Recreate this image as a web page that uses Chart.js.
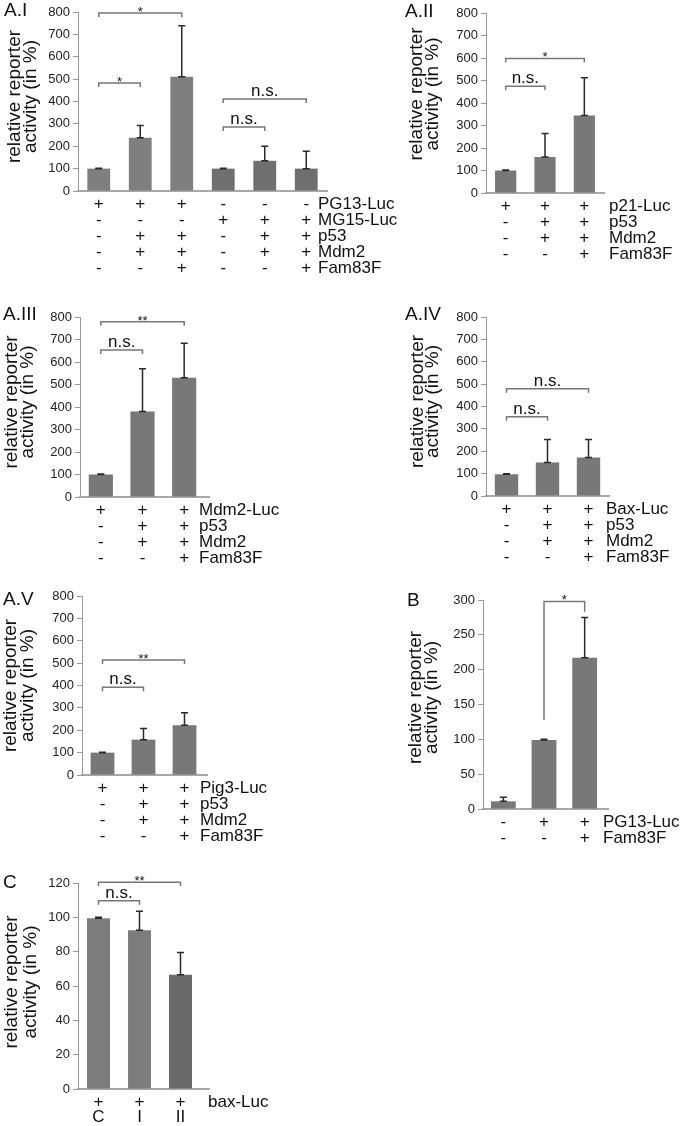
<!DOCTYPE html>
<html><head><meta charset="utf-8">
<script src="https://cdn.jsdelivr.net/npm/chart.js@4"></script>
<style>
html,body{margin:0;padding:0;background:#fff;}
body{width:685px;height:1126px;position:relative;overflow:hidden;}
canvas{position:absolute;}
</style></head><body>
<canvas id="c1"></canvas><canvas id="c2"></canvas><canvas id="c3"></canvas>
<canvas id="c4"></canvas><canvas id="c5"></canvas><canvas id="c6"></canvas><canvas id="c7"></canvas>
<script>
const FONT = '"Liberation Sans", Arial, Helvetica, sans-serif';

// ---------- data ----------
const ticksA = [0, 100, 200, 300, 400, 500, 600, 700, 800];
const ticksB = [0, 50, 100, 150, 200, 250, 300];
const ticksC = [0, 20, 40, 60, 80, 100, 120];

// A.I
const a1RowNames = ['PG13-Luc', 'MG15-Luc', 'p53', 'Mdm2', 'Fam83F'];
const a1Signs = [
  ['+', '+', '+', '-', '-', '-'],
  ['-', '-', '-', '+', '+', '+'],
  ['-', '+', '+', '-', '+', '+'],
  ['-', '+', '+', '-', '+', '+'],
  ['-', '-', '+', '-', '-', '+']
];
const a1Values = [100, 238, 511, 100, 135, 100];
const a1Errors = [2, 55, 227, 2, 65, 78];
const a1Brackets = [[0, 1, 483, '*'], [0, 2, 795, '*'], [3, 4, 286, 'n.s.'], [3, 5, 411, 'n.s.']];

// A.II
const a2RowNames = ['p21-Luc', 'p53', 'Mdm2', 'Fam83F'];
const a2Signs = [['+', '+', '+'], ['-', '+', '+'], ['-', '+', '+'], ['-', '-', '+']];
const a2Values = [100, 160, 345];
const a2Errors = [2, 105, 167];
const a2Brackets = [[0, 1, 474, 'n.s.'], [0, 2, 598, '*']];

// A.III
const a3RowNames = ['Mdm2-Luc', 'p53', 'Mdm2', 'Fam83F'];
const a3Signs = [['+', '+', '+'], ['-', '+', '+'], ['-', '+', '+'], ['-', '-', '+']];
const a3Values = [100, 380, 530];
const a3Errors = [2, 190, 153];
const a3Brackets = [[0, 1, 653, 'n.s.'], [0, 2, 779, '**']];

// A.IV
const a4RowNames = ['Bax-Luc', 'p53', 'Mdm2', 'Fam83F'];
const a4Signs = [['+', '+', '+'], ['-', '+', '+'], ['-', '+', '+'], ['-', '-', '+']];
const a4Values = [97, 150, 172];
const a4Errors = [3, 103, 81];
const a4Brackets = [[0, 1, 354, 'n.s.'], [0, 2, 479, 'n.s.']];

// A.V
const a5RowNames = ['Pig3-Luc', 'p53', 'Mdm2', 'Fam83F'];
const a5Signs = [['+', '+', '+'], ['-', '+', '+'], ['-', '+', '+'], ['-', '-', '+']];
const a5Values = [100, 158, 222];
const a5Errors = [2, 50, 56];
const a5Brackets = [[0, 1, 392, 'n.s.'], [0, 2, 514, '**']];

// B
const bRowNames = ['PG13-Luc', 'Fam83F'];
const bSigns = [['-', '+', '+'], ['-', '-', '+']];
const bValues = [11, 99, 217];
const bErrors = [6, 1, 58];
const bBrackets = [[1, 2, 298, '*', 128, 283]];

// C
const cRowNames = ['bax-Luc', ''];
const cSigns = [['+', '+', '+'], ['C', 'I', 'II']];
const cValues = [99.5, 92.5, 66.5];
const cErrors = [0.5, 11, 13];
const cBrackets = [[0, 1, 109.7, 'n.s.'], [0, 2, 120.4, '**']];

// ---------- drawing ----------
function transpose(rows) { return rows[0].map((_, i) => rows.map(r => r[i])); }

function makePanel(cfg) {
  const cv = document.getElementById(cfg.id);
  const [bx, by, bw, bh] = cfg.box;
  const [al, at, ar, ab] = cfg.area;
  cv.width = bw; cv.height = bh;
  cv.style.left = bx + 'px'; cv.style.top = by + 'px';
  const lh = cfg.lh, pad = cfg.pad;
  const yt = cfg.yTicks;

  const deco = {
    id: 'deco_' + cfg.id,
    afterDraw(chart) {
      const ctx = chart.ctx, xs = chart.scales.x, ys = chart.scales.y;
      const ca = chart.chartArea;
      ctx.save();
      if (cfg.xLineEnd && cfg.xLineEnd - bx > ca.right) {
        ctx.strokeStyle = '#a8a8a8'; ctx.lineWidth = 2;
        ctx.beginPath(); ctx.moveTo(ca.right - 1, ca.bottom); ctx.lineTo(cfg.xLineEnd - bx, ca.bottom); ctx.stroke();
      }
      ctx.strokeStyle = '#2a2a2a'; ctx.lineWidth = 1.5;
      cfg.values.forEach((v, i) => {
        const x = xs.getPixelForValue(i);
        const y0 = ys.getPixelForValue(v), y1 = ys.getPixelForValue(v + cfg.errors[i]);
        ctx.beginPath();
        ctx.moveTo(x, y0); ctx.lineTo(x, y1);
        ctx.moveTo(x - 3.5, y1); ctx.lineTo(x + 3.5, y1);
        ctx.moveTo(x - 3.5, y0); ctx.lineTo(x + 3.5, y0);
        ctx.stroke();
      });
      cfg.brackets.forEach(b => {
        const x1 = xs.getPixelForValue(b[0]), x2 = xs.getPixelForValue(b[1]);
        const y = ys.getPixelForValue(b[2]);
        const yl = b.length > 4 ? ys.getPixelForValue(b[4]) : y + 4;
        const yr = b.length > 5 ? ys.getPixelForValue(b[5]) : y + 4;
        ctx.strokeStyle = '#777'; ctx.lineWidth = 1.5;
        ctx.beginPath(); ctx.moveTo(x1, yl); ctx.lineTo(x1, y); ctx.lineTo(x2, y); ctx.lineTo(x2, yr); ctx.stroke();
        ctx.fillStyle = '#111'; ctx.textAlign = 'center'; ctx.textBaseline = 'alphabetic';
        if (b[3] === 'n.s.') {
          ctx.font = '17px ' + FONT; ctx.fillText(b[3], (x1 + x2) / 2, y - 3);
        } else {
          ctx.font = '13px ' + FONT; ctx.fillText(b[3], (x1 + x2) / 2, y + 3);
        }
      });
      ctx.fillStyle = '#111'; ctx.font = '17px ' + FONT;
      ctx.textAlign = 'left'; ctx.textBaseline = 'middle';
      cfg.rowNames.forEach((n, i) => {
        ctx.fillText(n, cfg.nameX - bx, ca.bottom + pad + lh / 2 + i * lh);
      });
      ctx.font = '19px ' + FONT; ctx.textBaseline = 'alphabetic';
      ctx.fillText(cfg.label, cfg.labelPos[0] - bx, cfg.labelPos[1] - by);
      const cy = (ca.top + ca.bottom) / 2 + cfg.titleDy;
      ctx.font = '19px ' + FONT; ctx.textAlign = 'center'; ctx.textBaseline = 'middle';
      ['relative reporter', 'activity (in %)'].forEach((t, i) => {
        ctx.save();
        ctx.translate(cfg.titleX[i] - bx, cy);
        ctx.rotate(-Math.PI / 2);
        ctx.fillText(t, 0, 0);
        ctx.restore();
      });
      ctx.restore();
    }
  };

  new Chart(cv, {
    type: 'bar',
    data: {
      labels: transpose(cfg.signs),
      datasets: [{
        data: cfg.values,
        backgroundColor: cfg.colors,
        borderWidth: 0,
        barPercentage: cfg.barPct,
        categoryPercentage: 1
      }]
    },
    options: {
      responsive: false, animation: false, devicePixelRatio: 1,
      layout: { padding: { left: 0, top: at - by, right: bx + bw - ar, bottom: 0 } },
      plugins: { legend: { display: false }, tooltip: { enabled: false } },
      scales: {
        x: {
          grid: { display: false, drawTicks: false },
          border: { display: true, color: '#a8a8a8', width: 2 },
          ticks: { font: { family: FONT, size: 17, lineHeight: lh + 'px' }, color: '#111', padding: pad, maxRotation: 0, autoSkip: false },
          afterFit: s => { s.height = by + bh - ab; }
        },
        y: {
          min: yt[0], max: yt[yt.length - 1],
          ticks: { stepSize: yt[1] - yt[0], font: { family: FONT, size: 13 }, color: '#222', padding: 3 },
          grid: { display: true, drawOnChartArea: false, drawTicks: true, tickLength: 5, color: '#999' },
          border: { display: true, color: '#999', width: 1 },
          afterFit: s => { s.width = al - bx; }
        }
      }
    },
    plugins: [deco]
  });
}

const g = '#787878';
makePanel({ id: 'c1', box: [0, 0, 420, 280], area: [78, 12, 327, 191], xLineEnd: 327, nameX: 318, pad: 5, lh: 16, barPct: 0.55,
  label: 'A.I', labelPos: [4, 16], titleX: [15, 31], titleDy: -5, yTicks: ticksA,
  signs: a1Signs, rowNames: a1RowNames, values: a1Values, errors: a1Errors, brackets: a1Brackets,
  colors: ['#7f7f7f', '#7f7f7f', '#7f7f7f', '#6f6f6f', '#6f6f6f', '#6f6f6f'] });
makePanel({ id: 'c2', box: [340, 0, 345, 280], area: [486, 13, 604, 193], xLineEnd: 604, nameX: 609, pad: 5, lh: 16, barPct: 0.54,
  label: 'A.II', labelPos: [405, 17], titleX: [417, 433], titleDy: -9, yTicks: ticksA,
  signs: a2Signs, rowNames: a2RowNames, values: a2Values, errors: a2Errors, brackets: a2Brackets, colors: g });
makePanel({ id: 'c3', box: [0, 280, 340, 290], area: [80, 317, 205, 497], xLineEnd: 210, nameX: 199, pad: 5, lh: 16, barPct: 0.58,
  label: 'A.III', labelPos: [3, 320], titleX: [12, 28], titleDy: -5, yTicks: ticksA,
  signs: a3Signs, rowNames: a3RowNames, values: a3Values, errors: a3Errors, brackets: a3Brackets, colors: g });
makePanel({ id: 'c4', box: [340, 280, 345, 290], area: [486, 317, 609, 496], xLineEnd: 609, nameX: 606, pad: 5, lh: 16, barPct: 0.57,
  label: 'A.IV', labelPos: [405, 320], titleX: [418, 433], titleDy: -5, yTicks: ticksA,
  signs: a4Signs, rowNames: a4RowNames, values: a4Values, errors: a4Errors, brackets: a4Brackets, colors: g });
makePanel({ id: 'c5', box: [0, 570, 340, 285], area: [82, 596, 205, 775], xLineEnd: 208, nameX: 200, pad: 5, lh: 16, barPct: 0.58,
  label: 'A.V', labelPos: [3, 605], titleX: [11, 28], titleDy: 0, yTicks: ticksA,
  signs: a5Signs, rowNames: a5RowNames, values: a5Values, errors: a5Errors, brackets: a5Brackets, colors: g });
makePanel({ id: 'c6', box: [340, 570, 345, 285], area: [483, 600, 605, 809], xLineEnd: 609, nameX: 603, pad: 5, lh: 16, barPct: 0.61,
  label: 'B', labelPos: [407, 606], titleX: [416, 432], titleDy: -7, yTicks: ticksB,
  signs: bSigns, rowNames: bRowNames, values: bValues, errors: bErrors, brackets: bBrackets, colors: g });
makePanel({ id: 'c7', box: [0, 840, 340, 286], area: [78, 883, 201, 1089], xLineEnd: 210, nameX: 208, pad: 6, lh: 15, barPct: 0.56,
  label: 'C', labelPos: [3, 888], titleX: [12, 31], titleDy: -4, yTicks: ticksC,
  signs: cSigns, rowNames: cRowNames, values: cValues, errors: cErrors, brackets: cBrackets,
  colors: ['#7c7c7c', '#7c7c7c', '#6a6a6a'] });
</script>
</body></html>
